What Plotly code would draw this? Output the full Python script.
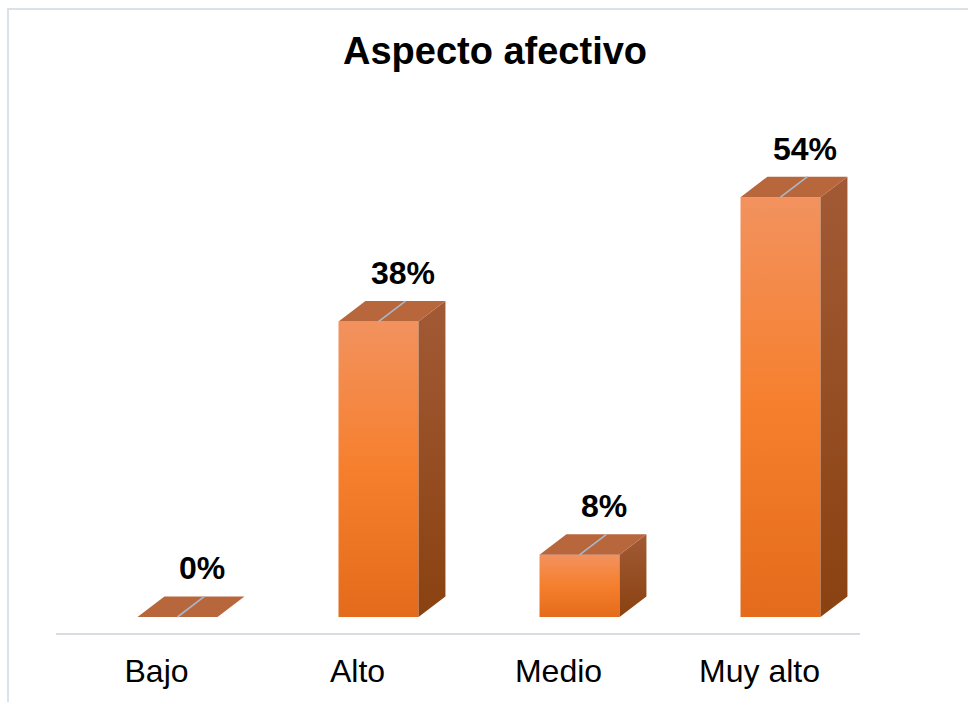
import plotly.graph_objects as go

# Survey result: affective aspect, share of respondents per level
categories = ["Bajo", "Alto", "Medio", "Muy alto"]
percentages = [0, 38, 8, 54]

# Pseudo-3D bar geometry (in axis units)
BAR_HALF = 0.199      # half width of the front face
FRONT_SHIFT = 0.1045  # front faces sit slightly right of the category tick
DEPTH_X = 0.134       # receding depth, horizontal
DEPTH_Y = 2.64        # receding depth, vertical

FRONT_SCALE = [[0.0, "#E36B1B"], [0.5, "#F67F2D"], [1.0, "#F2925E"]]
SIDE_SCALE = [[0.0, "#8A4211"], [1.0, "#A15A35"]]
TOP_COLOR = "#B8663C"
RIDGE_COLOR = "#A9B8C8"
FONT = "Liberation Sans, Arial, sans-serif"

fig = go.Figure()


def face(xs, ys, fillcolor=None, scale=None):
    kw = dict(
        x=xs + [xs[0]], y=ys + [ys[0]], mode="lines", fill="toself",
        line=dict(width=0), hoverinfo="skip", showlegend=False,
    )
    if scale is not None:
        kw["fillgradient"] = dict(type="vertical", colorscale=scale)
        kw["fillcolor"] = scale[1][1]
    else:
        kw["fillcolor"] = fillcolor
    fig.add_trace(go.Scatter(**kw))


for i, v in enumerate(percentages):
    c = i + FRONT_SHIFT
    l, r = c - BAR_HALF, c + BAR_HALF
    if v > 0:
        # front face
        face([l, r, r, l], [0, 0, v, v], scale=FRONT_SCALE)
        # right side face
        face([r, r + DEPTH_X, r + DEPTH_X, r], [0, DEPTH_Y, v + DEPTH_Y, v], scale=SIDE_SCALE)
    # top face
    face([l, r, r + DEPTH_X, l + DEPTH_X], [v, v, v + DEPTH_Y, v + DEPTH_Y], fillcolor=TOP_COLOR)
    # thin ridge across the top face
    fig.add_trace(go.Scatter(
        x=[c, c + DEPTH_X], y=[v, v + DEPTH_Y], mode="lines",
        line=dict(color=RIDGE_COLOR, width=1.6), hoverinfo="skip", showlegend=False,
    ))
    # value label above the bar
    fig.add_annotation(
        x=c + DEPTH_X - 0.01, y=v + DEPTH_Y, text=f"{v}%", showarrow=False,
        yanchor="bottom", yshift=8,
        font=dict(family=FONT, size=32, color="#000000", weight="bold"),
    )

# outer chart frame
fig.add_shape(
    type="rect", xref="paper", yref="paper",
    x0=(8 - 56) / 804, x1=(990 - 56) / 804,
    y0=(633 - 720) / 533, y1=(633 - 9) / 533,
    line=dict(color="#DCE1E8", width=2), fillcolor="rgba(0,0,0,0)", layer="below",
)

fig.update_layout(
    width=968, height=702,
    margin=dict(l=56, r=108, t=100, b=69),
    paper_bgcolor="white", plot_bgcolor="white",
    title=dict(
        text="<b>Aspecto afectivo</b>", x=495 / 968, xanchor="center",
        y=1 - 51 / 702, yanchor="middle",
        font=dict(family=FONT, size=38, color="#000000"),
    ),
    xaxis=dict(
        range=[-0.5, 3.5], tickvals=list(range(len(categories))), ticktext=categories,
        showgrid=False, zeroline=False, showline=True, linecolor="#D9DCE3", linewidth=2,
        ticks="", ticklabelstandoff=9, automargin=False,
        tickfont=dict(family=FONT, size=32, color="#000000"), fixedrange=True,
    ),
    yaxis=dict(
        range=[-16 / 7.774, (617 - 100) / 7.774], visible=False, fixedrange=True,
        automargin=False,
    ),
)

fig.write_html("out.html")
